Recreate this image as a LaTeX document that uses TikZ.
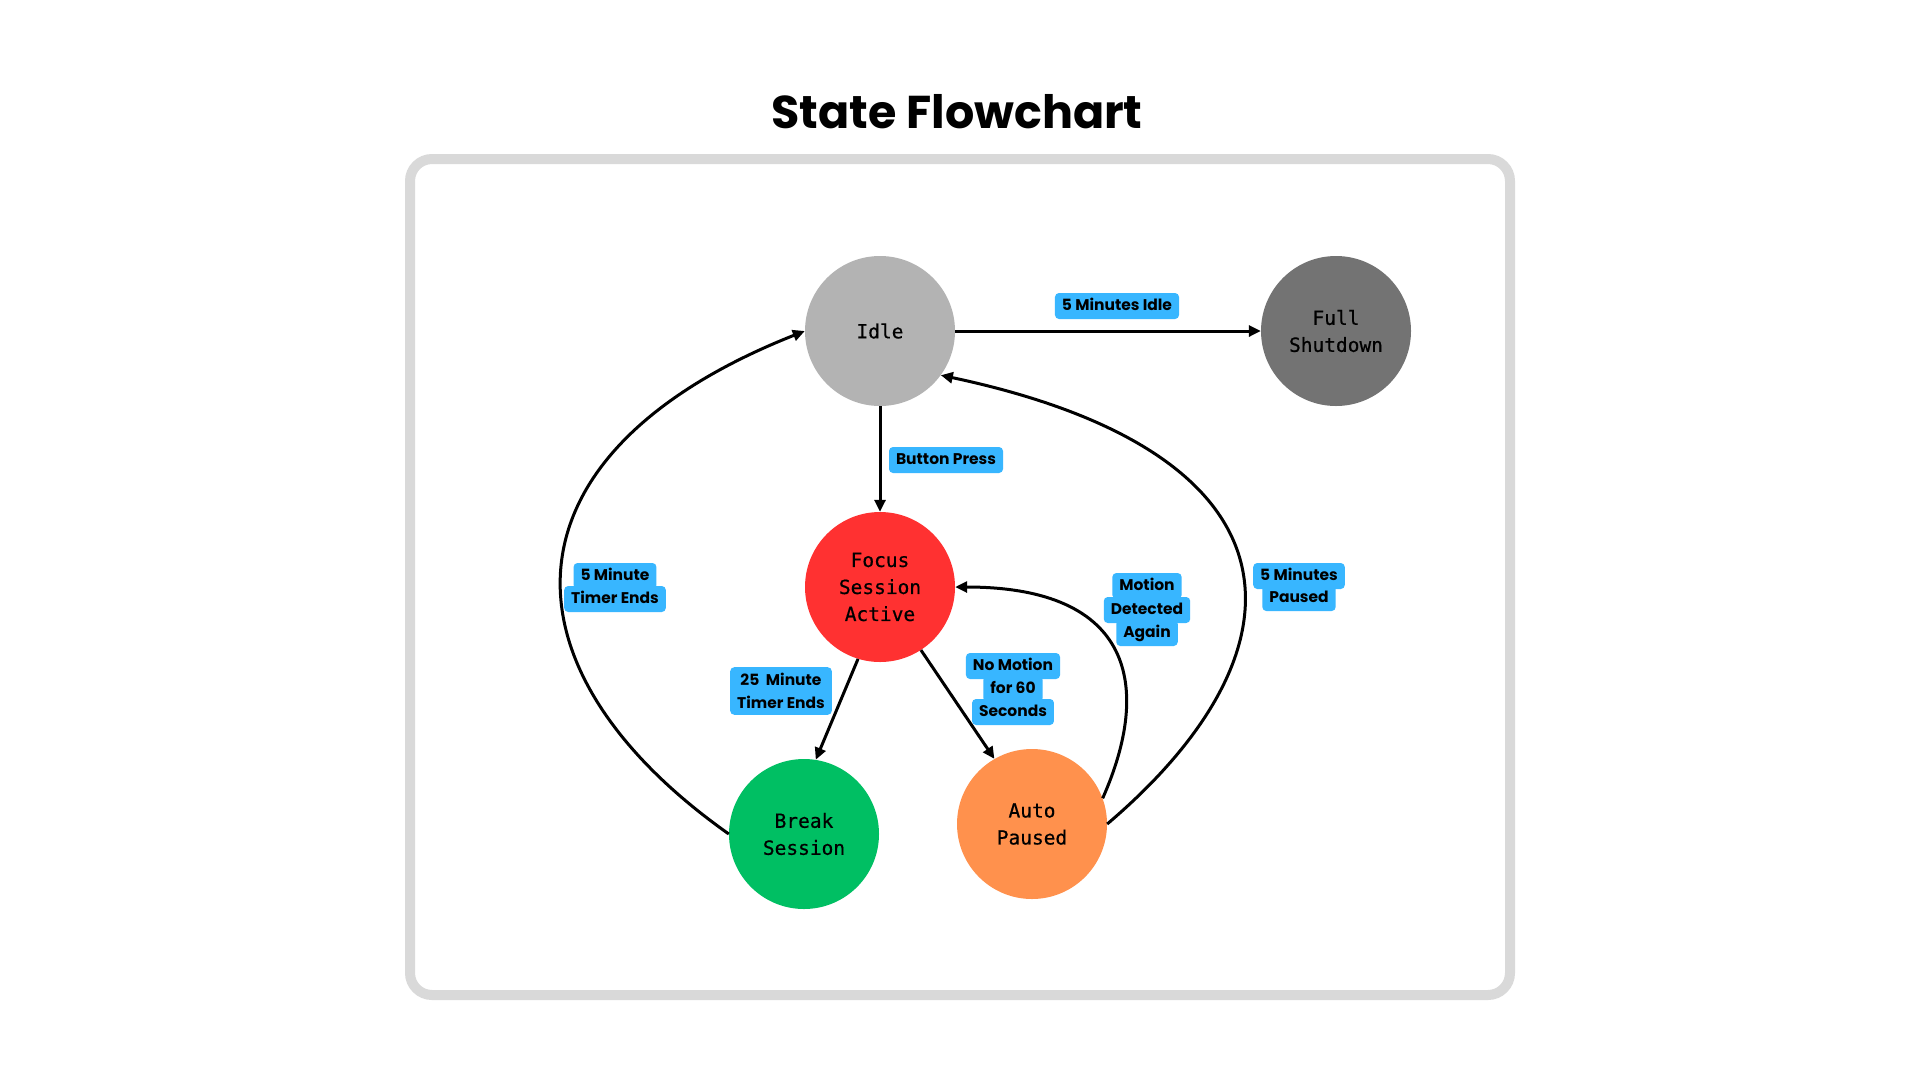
\documentclass[tikz,border=0pt]{standalone}
\usepackage{fontspec}
\usetikzlibrary{arrows.meta}
\newfontfamily\monof{DejaVu Sans Mono}[FakeBold=0.6]
\newfontfamily\popf{Poppins}
\definecolor{idlegray}{HTML}{B3B3B3}
\definecolor{shutgray}{HTML}{737373}
\definecolor{focusred}{HTML}{FF3131}
\definecolor{breakgreen}{HTML}{00BF63}
\definecolor{autoorange}{HTML}{FF914D}
\definecolor{lblue}{HTML}{38B6FF}
\definecolor{framegray}{HTML}{D9D9D9}
\tikzset{
  state/.style={circle, minimum size=150pt, inner sep=0pt, draw=none, align=center,
    font=\monof\fontsize{19.5}{27}\selectfont},
  lbl/.style={fill=lblue, rounded corners=4pt, inner xsep=7pt, inner ysep=6pt,
    text height=11pt, text depth=3pt, font=\popf\bfseries\fontsize{15.5}{23}\selectfont},
  lblm/.style={fill=lblue, rounded corners=4pt, inner xsep=7pt, inner ysep=6pt,
    align=center, font=\popf\bfseries\fontsize{15.5}{23}\selectfont},
  edge/.style={draw, line width=3pt, -{Triangle[length=12pt,width=11pt]}}
}
\begin{document}
\begin{tikzpicture}[x=1pt,y=-1pt]
\useasboundingbox (0,0) rectangle (1920,1080);
\fill[white] (0,0) rectangle (1920,1080);
\node[font=\popf\bfseries\fontsize{46}{54}\selectfont, anchor=base] (title) at (957,128) {State Flowchart};
\draw[line width=10pt, framegray, rounded corners=22pt] (410,159) rectangle (1510,995);

\node[state, fill=idlegray] (idle) at (880,331) {Idle};
\node[state, fill=shutgray] (shut) at (1336,331) {Full\\Shutdown};
\node[state, fill=focusred] (focus) at (880,587) {Focus\\Session\\Active};
\node[state, fill=breakgreen] (brk) at (804,834) {Break\\Session};
\node[state, fill=autoorange] (auto) at (1032,824) {Auto\\Paused};

\draw[edge] (idle.east) -- (shut.west);
\draw[edge] (idle.south) -- (focus.north);
\draw[edge] (focus.-107) -- (brk.81);
\draw[edge] (focus.-57) -- (auto.120);
\draw[edge] (brk.west) .. controls (494,668) and (494,454) .. (idle.west);
\draw[edge] (auto.east) .. controls (1312,650) and (1312,454) .. (idle.-36);
\draw[edge] (auto.20) .. controls (1152,687) and (1134,587) .. (focus.east);

\node[lbl] (l1) at (1117,306) {5 Minutes Idle};
\node[lbl] (l2) at (946,460) {Button Press};
\node[lbl] (l3a) at (615,576) {5 Minute};
\node[lbl] (l3b) at (615,599) {Timer Ends};
\node[lblm] (l4) at (781,691) {25\ \ Minute\\Timer Ends};
\node[lbl] (l5a) at (1013,666) {No Motion};
\node[lbl] (l5b) at (1013,689) {for 60};
\node[lbl] (l5c) at (1013,712) {Seconds};
\node[lbl] (l6b) at (1147,610) {Detected};
\node[lbl] (l6a) at (1147,586) {Motion};
\node[lbl] (l6c) at (1147,633) {Again};
\node[lbl] (l7a) at (1299,576) {5 Minutes};
\node[lbl] (l7b) at (1299,598) {Paused};
\end{tikzpicture}
\end{document}
